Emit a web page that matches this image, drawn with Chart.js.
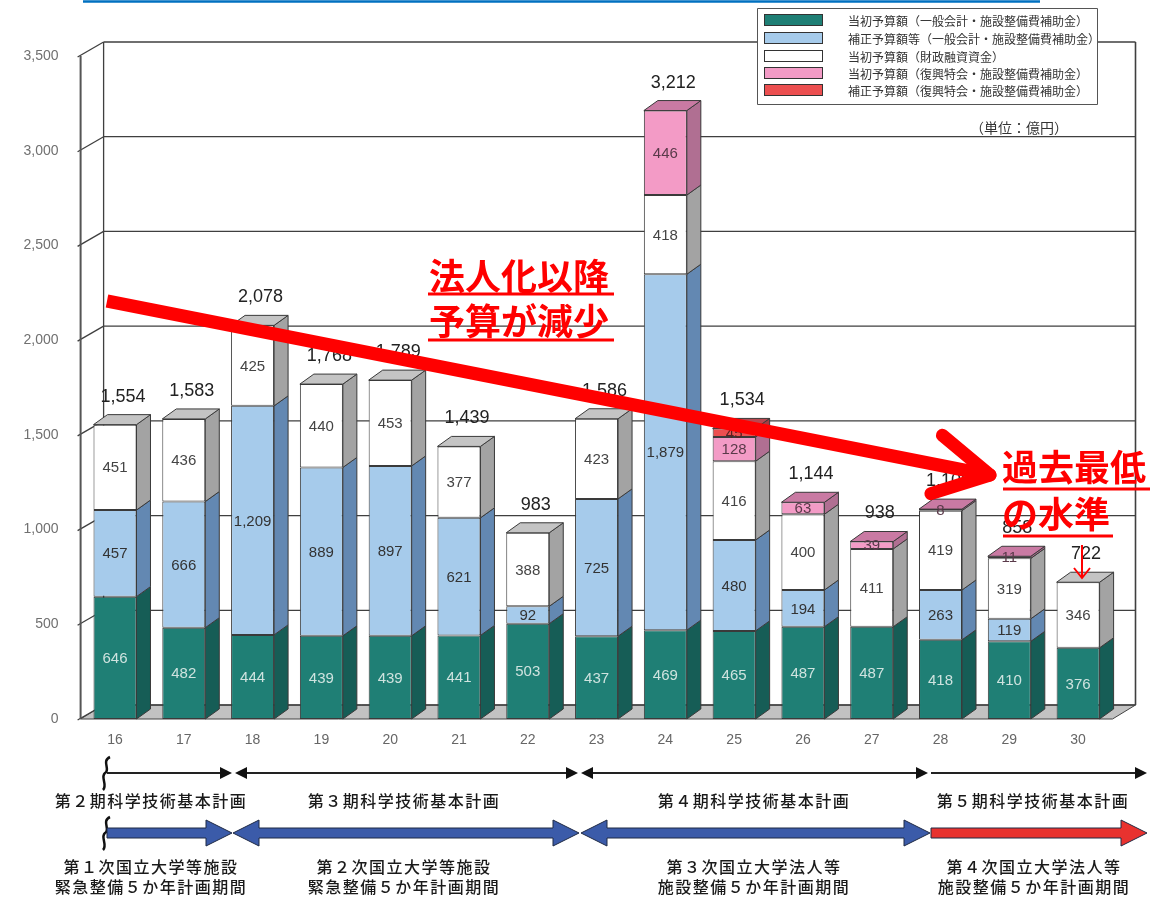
<!DOCTYPE html>
<html><head><meta charset="utf-8">
<script src="https://cdn.jsdelivr.net/npm/chart.js@4.4.1/dist/chart.umd.min.js"></script>
<style>html,body{margin:0;padding:0;background:#fff;}#wrap{width:1155px;height:898px;position:relative;}canvas{display:block;}</style>
</head><body><div id="wrap"><canvas id="c" width="1155" height="898"></canvas></div>
<script>
// ---- data ----
const years = ['16','17','18','19','20','21','22','23','24','25','26','27','28','29','30'];
const initialGeneral = [646,482,444,439,439,441,503,437,469,465,487,487,418,410,376];
const supplementaryGeneral = [457,666,1209,889,897,621,92,725,1879,480,194,0,263,119,0];
const fiscalLoan = [451,436,425,440,453,377,388,423,418,416,400,411,419,319,346];
const initialReconstruction = [0,0,0,0,0,0,0,0,446,128,63,39,8,11,0];
const supplementaryReconstruction = [0,0,0,0,0,0,0,0,0,45,0,0,0,0,0];
const totals = [1554,1583,2078,1768,1789,1439,983,1586,3212,1534,1144,938,1108,858,722];
const yTicks = [0,500,1000,1500,2000,2500,3000,3500];
const seriesNames = ['当初予算額（一般会計・施設整備費補助金）','補正予算額等（一般会計・施設整備費補助金）','当初予算額（財政融資資金）','当初予算額（復興特会・施設整備費補助金）','補正予算額（復興特会・施設整備費補助金）'];

// ---- styles ----
const frontColors = ['#1f7f75','#a6cbeb','#ffffff','#f39bc6','#ec4f50'];
const sideColors  = ['#165d56','#6388b2','#a3a3a3','#b06f92','#a63b42'];
const topColors   = ['#2a9a8e','#c3dcf2','#c4c4c4','#c97aa3','#b9474f'];
const labelColors = ['#cfe3df','#333333','#444444','#5a3a4a','#5a2020'];
const BAR = {dx:14, dy:-10};
const WALL = {dx:23, dy:-14};
const NUMFONT = '"Liberation Sans", Arial, sans-serif';
const JPFONT = '"Noto Sans CJK JP", "Noto Sans", sans-serif';

const series = [initialGeneral, supplementaryGeneral, fiscalLoan, initialReconstruction, supplementaryReconstruction];
const datasets = series.map((arr, k) => ({
  label: seriesNames[k],
  data: arr.map(v => v > 0 ? v : null),
  backgroundColor: frontColors[k],
  borderColor: '#3a3a3a',
  borderWidth: 1,
  borderSkipped: false,
  barPercentage: 0.625,
  categoryPercentage: 1.0
}));

function poly(ctx, pts, fill, stroke, lw) {
  ctx.beginPath();
  ctx.moveTo(pts[0][0], pts[0][1]);
  for (let i = 1; i < pts.length; i++) ctx.lineTo(pts[i][0], pts[i][1]);
  ctx.closePath();
  if (fill) { ctx.fillStyle = fill; ctx.fill(); }
  if (stroke) { ctx.strokeStyle = stroke; ctx.lineWidth = lw || 1; ctx.stroke(); }
}
function line(ctx, x1, y1, x2, y2, color, lw) {
  ctx.beginPath(); ctx.moveTo(x1, y1); ctx.lineTo(x2, y2);
  ctx.strokeStyle = color; ctx.lineWidth = lw; ctx.stroke();
}

const scene = {
  id: 'scene',
  beforeDatasetsDraw(chart) {
    const ctx = chart.ctx; const {left, right, top, bottom} = chart.chartArea;
    const ys = chart.scales.y;
    ctx.save();
    poly(ctx, [[left,bottom],[right,bottom],[right+WALL.dx,bottom+WALL.dy],[left+WALL.dx,bottom+WALL.dy]], '#c2c2c2', '#444', 1);
    yTicks.forEach(v => {
      const y = ys.getPixelForValue(v);
      line(ctx, left+WALL.dx, y+WALL.dy, right+WALL.dx, y+WALL.dy, '#3f3f3f', 1.3);
      line(ctx, left-3, y+1, left+WALL.dx, y+WALL.dy, '#3f3f3f', 1.3);
    });
    line(ctx, left+WALL.dx, top+WALL.dy, left+WALL.dx, bottom+WALL.dy, '#3f3f3f', 1.3);
    line(ctx, right+WALL.dx, top+WALL.dy, right+WALL.dx, bottom+WALL.dy, '#3f3f3f', 1.6);
    line(ctx, left, top, left, bottom, '#555', 2);
    ctx.restore();
  },
  afterDatasetsDraw(chart) {
    const ctx = chart.ctx;
    const metas = chart.data.datasets.map((d, k) => chart.getDatasetMeta(k));
    ctx.save();
    for (let i = 0; i < years.length; i++) {
      let topK = -1;
      for (let k = 0; k < series.length; k++) {
        if (!(series[k][i] > 0)) continue;
        topK = k;
        const el = metas[k].data[i];
        const xr = el.x + el.width / 2;
        poly(ctx, [[xr, el.y],[xr+BAR.dx, el.y+BAR.dy],[xr+BAR.dx, el.base+BAR.dy],[xr, el.base]], sideColors[k], '#3a3a3a', 1);
      }
      if (topK >= 0) {
        const el = metas[topK].data[i];
        const xl = el.x - el.width / 2, xr = el.x + el.width / 2;
        poly(ctx, [[xl, el.y],[xr, el.y],[xr+BAR.dx, el.y+BAR.dy],[xl+BAR.dx, el.y+BAR.dy]], topColors[topK], '#3a3a3a', 1);
        ctx.font = '18px ' + NUMFONT; ctx.fillStyle = '#222';
        ctx.textAlign = 'center'; ctx.textBaseline = 'middle';
        ctx.fillText(totals[i].toLocaleString('en-US'), el.x + 8, el.y + BAR.dy - 18);
      }
      for (let k = 0; k < series.length; k++) {
        if (!(series[k][i] > 0)) continue;
        const el = metas[k].data[i];
        ctx.font = '15px ' + NUMFONT; ctx.fillStyle = labelColors[k];
        ctx.textAlign = 'center'; ctx.textBaseline = 'middle';
        ctx.fillText(series[k][i].toLocaleString('en-US'), el.x, (el.y + el.base) / 2 + 1);
      }
    }
    ctx.restore();
  },
  afterDraw(chart) {
    const ctx = chart.ctx;
    ctx.save();
    line(ctx, 83, 1.5, 1040, 1.5, '#0070c0', 2.5);
    // legend
    poly(ctx, [[757.5,8.5],[1097.5,8.5],[1097.5,104.5],[757.5,104.5]], '#fff', '#555', 1);
    const rowY = [20, 38, 56, 73, 90];
    seriesNames.forEach((n, k) => {
      ctx.fillStyle = frontColors[k]; ctx.fillRect(764, rowY[k]-6, 59, 12);
      ctx.strokeStyle = '#333'; ctx.lineWidth = 1; ctx.strokeRect(764.5, rowY[k]-5.5, 58, 11);
      ctx.font = '12px ' + JPFONT; ctx.fillStyle = '#333';
      ctx.textAlign = 'left'; ctx.textBaseline = 'middle';
      ctx.fillText(n, 848, rowY[k] + 1);
    });
    ctx.font = '14px ' + JPFONT; ctx.fillStyle = '#333'; ctx.textAlign = 'left';
    ctx.fillText('（単位：億円）', 970, 128);

    // bottom period rows
    const squiggle = (x, y) => {
      ctx.beginPath();
      ctx.moveTo(x+5, y-16);
      ctx.bezierCurveTo(x-4, y-12, x+6, y-3, x, y);
      ctx.bezierCurveTo(x-5, y+4, x+3, y+12, x-2, y+17);
      ctx.strokeStyle = '#111'; ctx.lineWidth = 2.5; ctx.stroke();
    };
    const thinArrow = (x1, x2, y, lh, rh) => {
      line(ctx, x1 + (lh?6:0), y, x2 - (rh?6:0), y, '#222', 2);
      if (rh) poly(ctx, [[x2,y],[x2-12,y-6],[x2-12,y+6]], '#111');
      if (lh) poly(ctx, [[x1,y],[x1+12,y-6],[x1+12,y+6]], '#111');
    };
    const thickArrow = (x1, x2, y, lh, rh, fill) => {
      const b = 5, h = 13, L = 26;
      const pts = [];
      if (lh) { pts.push([x1,y],[x1+L,y-h],[x1+L,y-b]); } else { pts.push([x1,y-b]); }
      if (rh) { pts.push([x2-L,y-b],[x2-L,y-h],[x2,y],[x2-L,y+h],[x2-L,y+b]); } else { pts.push([x2,y-b],[x2,y+b]); }
      if (lh) { pts.push([x1+L,y+b],[x1+L,y+h]); } else { pts.push([x1,y+b]); }
      poly(ctx, pts, fill, '#1f2a44', 1);
    };
    const yA = 773, yB = 833;
    squiggle(105, yA); squiggle(105, yB);
    thinArrow(107, 232, yA, false, true);
    thinArrow(235, 578, yA, true, true);
    thinArrow(581, 928, yA, true, true);
    thinArrow(931, 1147, yA, false, true);
    thickArrow(107, 232, yB, false, true, '#3b5ba9');
    thickArrow(233, 579, yB, true, true, '#3b5ba9');
    thickArrow(581, 930, yB, true, true, '#3b5ba9');
    thickArrow(931, 1147, yB, false, true, '#e8322f');

    ctx.font = '500 16px ' + JPFONT; ctx.fillStyle = '#1a1a1a';
    ctx.textAlign = 'center'; ctx.textBaseline = 'middle';
    try { ctx.letterSpacing = '1.5px'; } catch(e) {}
    const plans = [['第２期科学技術基本計画',151],['第３期科学技術基本計画',404],['第４期科学技術基本計画',754],['第５期科学技術基本計画',1033]];
    plans.forEach(([t,x]) => ctx.fillText(t, x, 801));
    const facs = [[['第１次国立大学等施設','緊急整備５か年計画期間'],151],[['第２次国立大学等施設','緊急整備５か年計画期間'],404],[['第３次国立大学法人等','施設整備５か年計画期間'],754],[['第４次国立大学法人等','施設整備５か年計画期間'],1034]];
    facs.forEach(([ts,x]) => { ctx.fillText(ts[0], x, 867); ctx.fillText(ts[1], x, 887); });
    try { ctx.letterSpacing = '0px'; } catch(e) {}

    // big red trend arrow
    const sx = 107, sy = 301, tx = 990, ty = 475;
    ctx.lineCap = 'butt';
    line(ctx, sx, sy, tx - 6, ty - 1, '#ff0000', 13);
    ctx.lineCap = 'round';
    const ang = Math.atan2(ty - sy, tx - sx);
    [-1, 1].forEach(s => {
      const a = ang + Math.PI + s * 0.5;
      line(ctx, tx, ty, tx + 62 * Math.cos(a), ty + 62 * Math.sin(a), '#ff0000', 13);
    });
    ctx.lineCap = 'butt';

    // red annotations
    ctx.font = 'bold 36px ' + JPFONT; ctx.fillStyle = '#ff0000';
    ctx.textAlign = 'left'; ctx.textBaseline = 'middle';
    ctx.fillText('法人化以降', 429, 276);
    ctx.fillText('予算が減少', 429, 321);
    line(ctx, 428, 294, 614, 294, '#ff0000', 3);
    line(ctx, 428, 340, 614, 340, '#ff0000', 3);
    ctx.fillText('過去最低', 1002, 467);
    ctx.fillText('の水準', 1002, 514);
    line(ctx, 1003, 489, 1150, 489, '#ff0000', 3);
    line(ctx, 1003, 536, 1113, 536, '#ff0000', 3);
    line(ctx, 1082, 545, 1082, 578, '#ff0000', 2);
    ctx.beginPath(); ctx.moveTo(1074, 568); ctx.lineTo(1082, 578); ctx.lineTo(1090, 568);
    ctx.strokeStyle = '#ff0000'; ctx.lineWidth = 2; ctx.stroke();
    ctx.restore();
  }
};

new Chart(document.getElementById('c'), {
  type: 'bar',
  data: { labels: years, datasets },
  options: {
    responsive: false, animation: false, devicePixelRatio: 1,
    layout: { padding: { left: 0, right: 42.5, top: 56, bottom: 149 } },
    plugins: { legend: { display: false }, tooltip: { enabled: false } },
    scales: {
      x: {
        stacked: true,
        grid: { display: false, drawTicks: false }, border: { display: false },
        ticks: { padding: 13, color: '#666', autoSkip: false, maxRotation: 0, font: { family: NUMFONT, size: 14 } },
        afterFit(s) { s.height = 30; }
      },
      y: {
        stacked: true, min: 0, max: 3500,
        grid: { display: false, drawTicks: false }, border: { display: false },
        afterBuildTicks(s) { s.ticks = yTicks.map(v => ({ value: v })); },
        ticks: { padding: 22, color: '#707070', font: { family: NUMFONT, size: 14 }, callback: v => Number(v).toLocaleString('en-US') },
        afterFit(s) { s.width = 80.6; }
      }
    }
  },
  plugins: [scene]
});
</script></body></html>
